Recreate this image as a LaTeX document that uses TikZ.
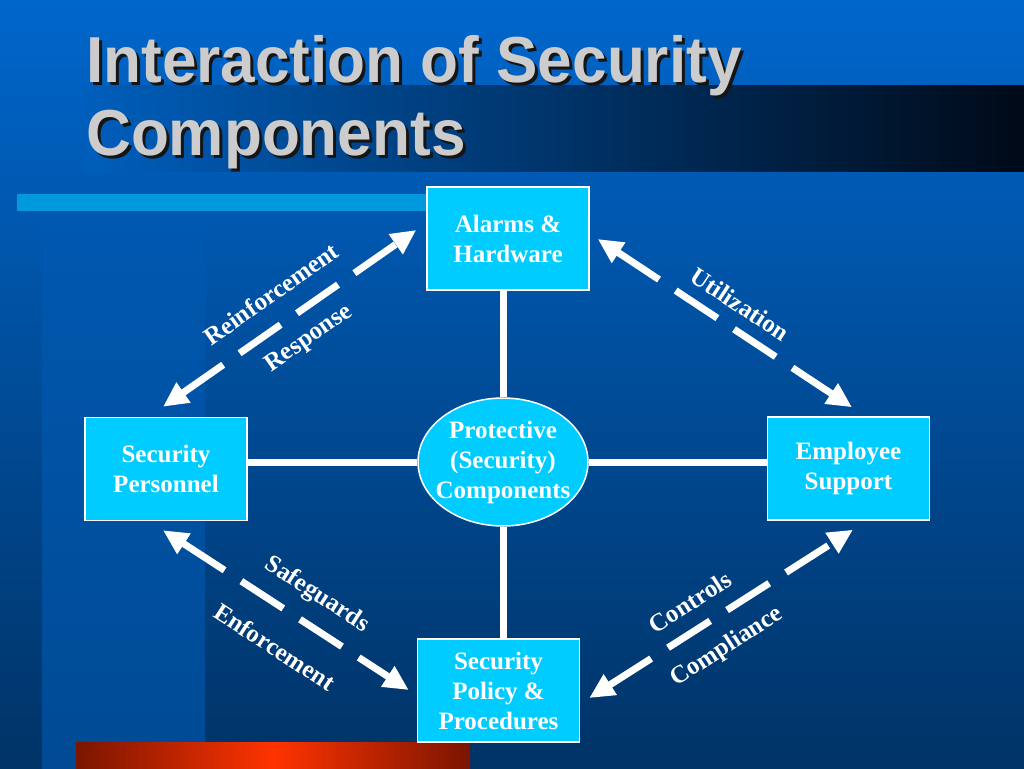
\documentclass[tikz,border=0pt]{standalone}
\usepackage{fontspec}
\setmainfont{Liberation Serif}
\newfontfamily\titlefont[FakeStretch=0.955]{Liberation Sans}
\usetikzlibrary{arrows.meta,shapes.geometric}
\definecolor{bgtop}{HTML}{0066CC}
\definecolor{bgbot}{HTML}{003366}
\definecolor{coltop}{HTML}{0058B0}
\definecolor{colbot}{HTML}{004A94}
\definecolor{barblue}{HTML}{0099DD}
\definecolor{bandstart}{HTML}{005EBB}
\definecolor{bandend}{HTML}{000A18}
\definecolor{reddark}{HTML}{7A1500}
\definecolor{redbright}{HTML}{FF3300}
\definecolor{boxcyan}{HTML}{00CCFF}
\definecolor{titlegray}{HTML}{CCCCCC}
\definecolor{titleshadow}{HTML}{151515}
\begin{document}
\begin{tikzpicture}[x=1pt,y=-1pt,
  box/.style={draw=white, line width=1.5pt, fill=boxcyan, minimum width=162pt, minimum height=103pt, inner sep=0pt, align=center, text=white, font=\fontsize{25}{30}\selectfont\bfseries},
  hub/.style={ellipse, draw=white, line width=1.5pt, fill=boxcyan, minimum width=170pt, minimum height=128pt, inner sep=0pt},
  hubtext/.style={align=center, text=white, inner sep=0pt, font=\fontsize{25}{30}\selectfont\bfseries},
  link/.style={draw=white, line width=7pt},
  dasharrow/.style={draw=white, line width=7pt, dash pattern=on 50pt off 20pt, >={Triangle[length=25pt,width=23pt]}, <->},
  lbl/.style={text=white, inner sep=0pt, font=\fontsize{25}{28}\selectfont\bfseries},
  ttl/.style={anchor=base west, inner sep=0pt, font=\titlefont\fontsize{65}{75}\selectfont\bfseries}
]
\useasboundingbox (0,0) rectangle (1024,768);
% background
\shade[top color=bgtop, bottom color=bgbot] (0,0) rectangle (1024,768);
\shade[top color=coltop, bottom color=colbot] (42,211) rectangle (205,768);
\shade[left color=bandstart, right color=bandend] (85,85) rectangle (1024,171);
\fill[barblue] (17,194) rectangle (435,211);
\shade[left color=reddark, right color=reddark, middle color=redbright] (76,742) rectangle (470,768);
% title
\node[ttl, text=titleshadow] (t1s) at (89,85) {Interaction of Security};
\node[ttl, text=titleshadow] (t2s) at (89,158) {Components};
\node[ttl, text=titlegray] (t1) at (86,82) {Interaction of Security};
\node[ttl, text=titlegray] (t2) at (86,155) {Components};
% nodes
\node[box] (alarms) at (508,238.5) {Alarms \&\\Hardware};
\node[box] (pers) at (166,469) {Security\\Personnel};
\node[box] (emp) at (848.5,468.5) {Employee\\Support};
\node[box] (policy) at (498.5,690.5) {Security\\Policy \&\\Procedures};
\node[hub] (prot) at (503,462) {};
\node[hubtext] (prottext) at (prot.center) {Protective\\(Security)\\Components};
% solid links
\draw[link] (prot.north) -- (prot.north |- alarms.south);
\draw[link] (prot.south) -- (prot.south |- policy.north);
\draw[link] (prot.west) -- (prot.west -| pers.east);
\draw[link] (prot.east) -- (prot.east -| emp.west);
% dashed double arrows
\draw[dasharrow] ([shift={(-3,-10)}]pers.north) -- ([shift={(-10,-8.5)}]alarms.west);
\draw[dasharrow] ([shift={(8,0.5)}]alarms.east) -- ([shift={(3.5,-9)}]emp.north);
\draw[dasharrow] ([shift={(-3,9)}]pers.south) -- ([shift={(-8,-0.5)}]policy.west);
\draw[dasharrow] ([shift={(9,7.5)}]policy.east) -- ([shift={(4.5,9)}]emp.south);
% labels
\node[lbl, rotate=35] (l1) at (271,294) {Reinforcement};
\node[lbl, rotate=35] (l2) at (309,339) {Response};
\node[lbl, rotate=-33.5] (l3) at (740,304) {Utilization};
\node[lbl, rotate=-33] (l4) at (317,595) {Safeguards};
\node[lbl, rotate=-33] (l5) at (275,647) {Enforcement};
\node[lbl, rotate=32.6] (l6) at (690,602) {Controls};
\node[lbl, rotate=32.6] (l7) at (727,647) {Compliance};
\end{tikzpicture}
\end{document}
